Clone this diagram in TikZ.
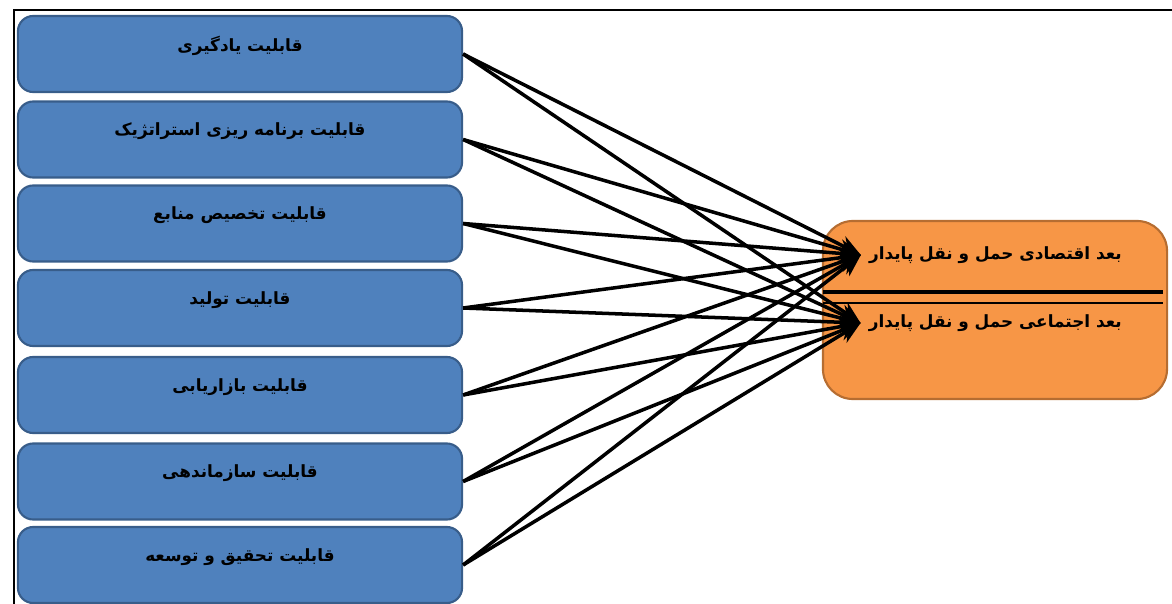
\documentclass[tikz,border=0pt]{standalone}
\usepackage{fontspec}
\newfontfamily\farsifont[Script=Arabic]{DejaVu Sans}
\TeXXeTstate=1
\usetikzlibrary{arrows.meta}
\definecolor{capblue}{HTML}{4F81BD}
\definecolor{capedge}{HTML}{385D8A}
\definecolor{dimorange}{HTML}{F79646}
\definecolor{dimedge}{HTML}{B66D31}
\newcommand{\fa}[1]{{\farsifont\bfseries\beginR #1\endR}}

\begin{document}
\begin{tikzpicture}[x=0.025cm,y=-0.025cm,
    capbox/.style={draw=capedge, line width=1.5pt, fill=capblue, rounded corners=0.38cm,
      minimum width=11.1cm, minimum height=1.9cm},
    captext/.style={font=\fontsize{12}{14}\selectfont, inner sep=1pt},
    dimbox/.style={draw=dimedge, line width=1.5pt, fill=dimorange, rounded corners=0.75cm,
      minimum width=8.6cm, minimum height=4.45cm},
    dimtext/.style={font=\fontsize{12}{14}\selectfont, inner xsep=0.2cm, inner ysep=1pt},
    link/.style={line width=2.5pt, -{Stealth[length=0.55cm,width=0.48cm]}}]
    \useasboundingbox (0,0) rectangle (1172,604);

    % Frame
    \draw[line width=2pt] (14,604) -- (14,10) -- (1172,10);

    % Capabilities
    \node[capbox] (learn) at (240,54) {};
    \node[capbox] (plan) at (240,139.5) {};
    \node[capbox] (alloc) at (240,223.5) {};
    \node[capbox] (prod) at (240,308) {};
    \node[capbox] (market) at (240,395) {};
    \node[capbox] (organ) at (240,481.5) {};
    \node[capbox] (rnd) at (240,565) {};

    \node[captext] (learnt) at ([yshift=0.2cm]learn.center) {\fa{قابلیت یادگیری}};
    \node[captext] (plant) at ([yshift=0.2cm]plan.center) {\fa{قابلیت برنامه ریزی استراتژیک}};
    \node[captext] (alloct) at ([yshift=0.2cm]alloc.center) {\fa{قابلیت تخصیص منابع}};
    \node[captext] (prodt) at ([yshift=0.2cm]prod.center) {\fa{قابلیت تولید}};
    \node[captext] (markett) at ([yshift=0.2cm]market.center) {\fa{قابلیت بازاریابی}};
    \node[captext] (organt) at ([yshift=0.2cm]organ.center) {\fa{قابلیت سازماندهی}};
    \node[captext] (rndt) at ([yshift=0.2cm]rnd.center) {\fa{قابلیت تحقیق و توسعه}};

    % Dimensions
    \node[dimbox] (dims) at (995,310) {};
    \draw[line width=2.4pt] (823,292) -- (1163,292);
    \draw[line width=1.5pt] (823,303) -- (1163,303);
    \node[dimtext, anchor=east] (econ) at (1130,255) {\fa{بعد اقتصادی حمل و نقل پایدار}};
    \node[dimtext, anchor=east] (social) at (1130,323) {\fa{بعد اجتماعی حمل و نقل پایدار}};

    % Arrows
    \foreach \src in {learn,plan,alloc,prod,market,organ,rnd} {
        \draw[link] (\src.east) -- (econ.west);
        \draw[link] (\src.east) -- (social.west);
    }
\end{tikzpicture}
\end{document}
